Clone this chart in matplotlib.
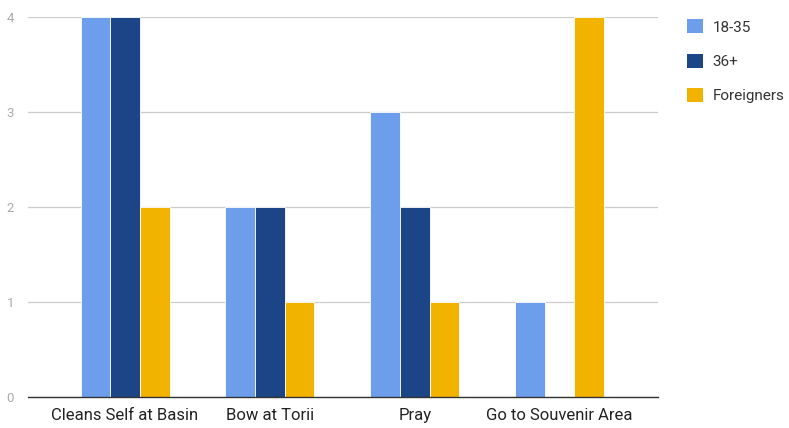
import numpy as np
import matplotlib.pyplot as plt
from matplotlib.patches import Patch

plt.rcParams['font.family'] = ['Roboto', 'DejaVu Sans']

categories = ['Cleans Self at Basin', 'Bow at Torii', 'Pray', 'Go to Souvenir Area']
series_names = ['18-35', '36+', 'Foreigners']
young = [4, 2, 3, 1]
older = [4, 2, 2, 0]
foreigners = [2, 1, 1, 4]
colors = ['#6d9eeb', '#1c4587', '#f1b300']

fig = plt.figure(figsize=(7.89, 4.28), dpi=100)
ax = fig.add_axes([0.0355, 0.0724, 0.7985, 0.8878])

x = np.arange(len(categories))
w = 0.205
for i, (vals, c) in enumerate(zip([young, older, foreigners], colors)):
    ax.bar(x + (i - 1) * w, vals, width=w, color=c, edgecolor='white',
           linewidth=0.6, zorder=3, clip_on=False)

ax.set_xlim(-0.67, 3.68)
ax.set_ylim(0, 4)
ax.set_yticks([0, 1, 2, 3, 4])
ax.set_xticks(x)
ax.set_xticklabels(categories, fontsize=12, color='#222222')
ax.tick_params(axis='y', labelsize=9.5, colors='#aaaaaa', length=0, pad=10)
ax.tick_params(axis='x', length=0, pad=8)

ax.grid(axis='y', color='#cccccc', linewidth=0.9, zorder=0)
for s in ['top', 'right', 'left']:
    ax.spines[s].set_visible(False)
ax.spines['bottom'].set_color('#333333')
ax.spines['bottom'].set_linewidth(1.0)
ax.spines['bottom'].set_zorder(4)

handles = [Patch(facecolor=c, edgecolor='none') for c in colors]
fig.legend(handles, series_names, loc='upper left', bbox_to_anchor=(0.853, 0.987),
           frameon=False, fontsize=11, labelcolor='#333333',
           handlelength=1.05, handleheight=1.05, handletextpad=0.65, labelspacing=1.25)

fig.savefig('out.png', dpi=100)
